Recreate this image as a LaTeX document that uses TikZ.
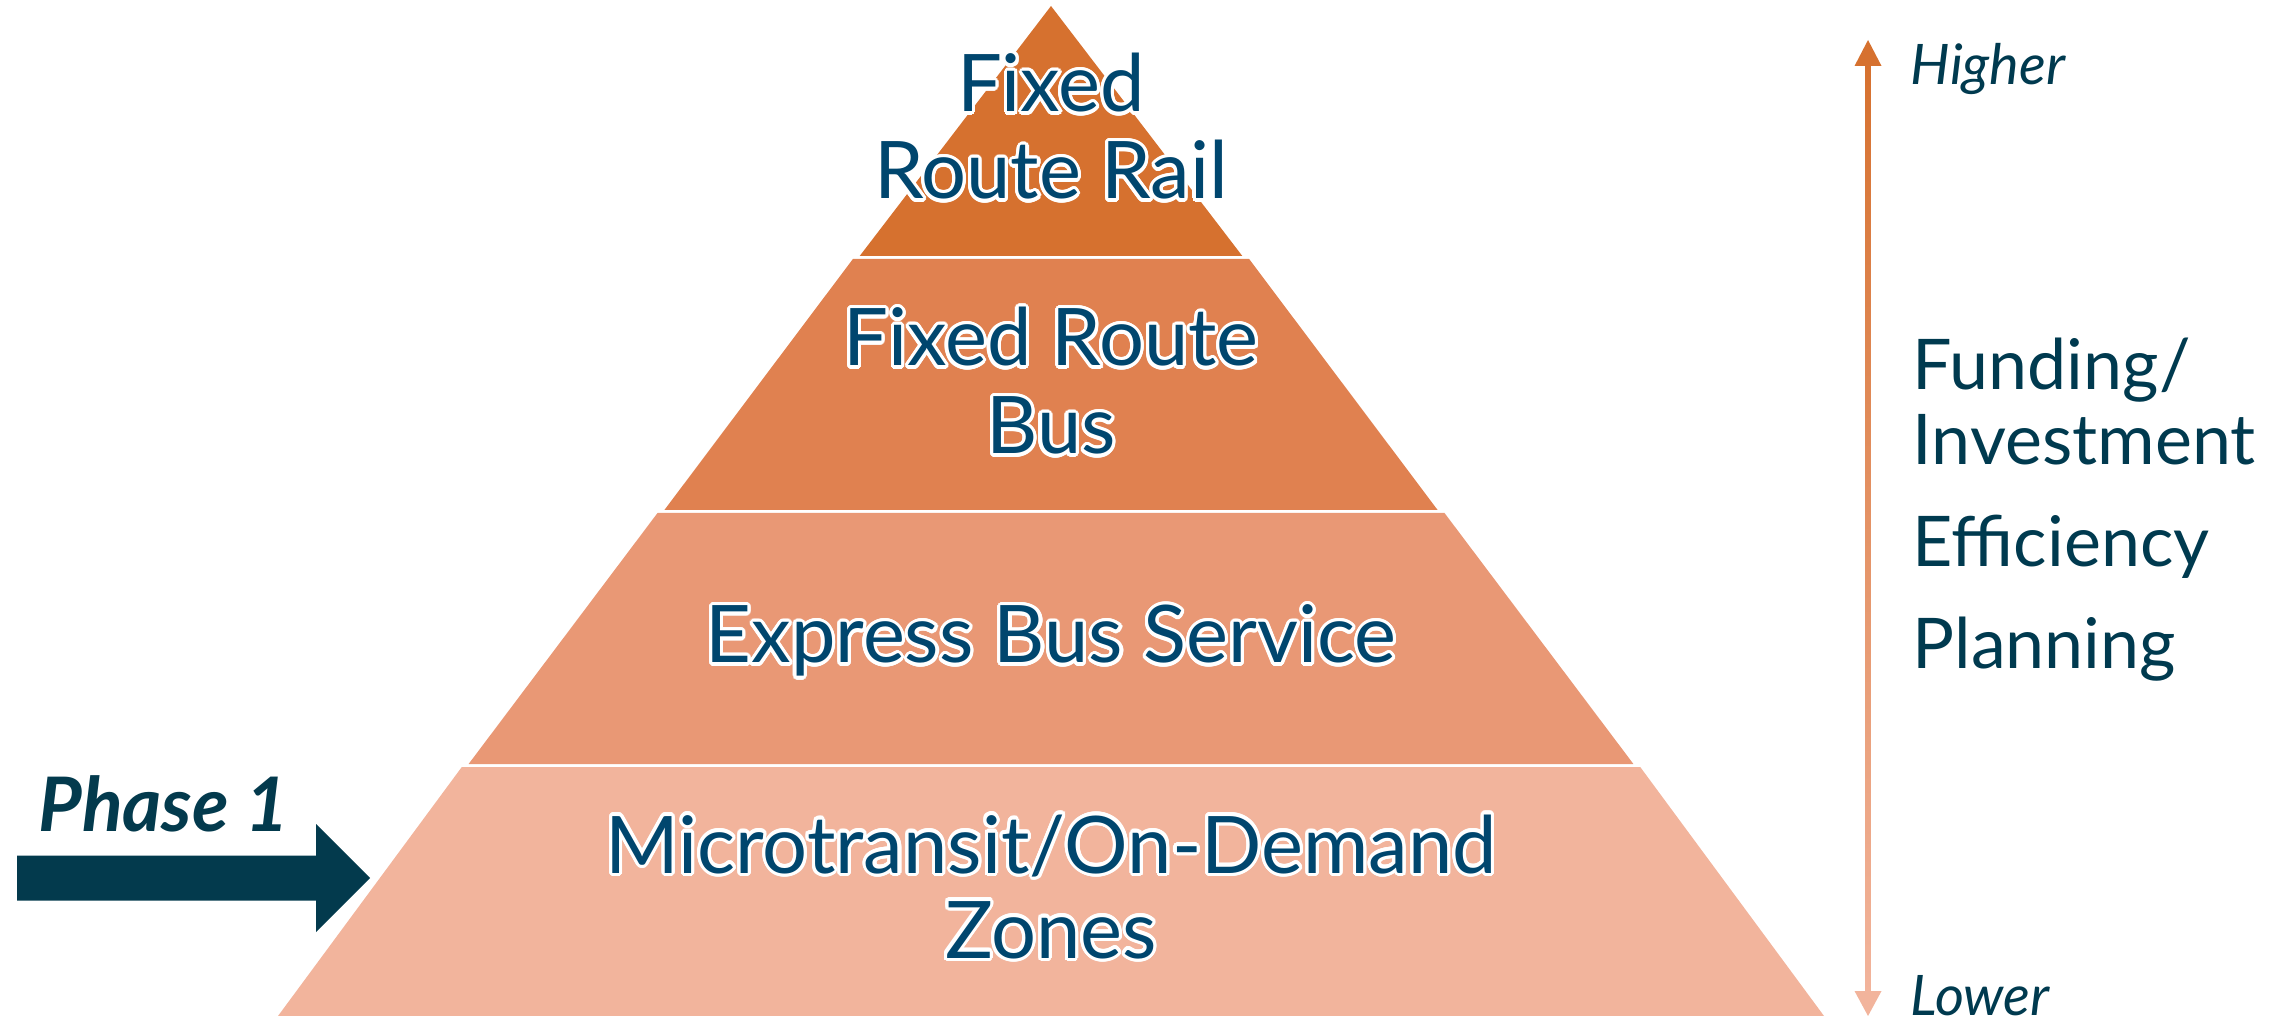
\documentclass[tikz,border=0pt]{standalone}
\usepackage{fontspec}
\setmainfont{Lato}
\usepackage{contour}
\contourlength{0.9pt}
\contournumber{24}
\definecolor{layA}{RGB}{214,113,47}
\definecolor{layB}{RGB}{224,129,80}
\definecolor{layC}{RGB}{233,152,117}
\definecolor{layD}{RGB}{242,180,156}
\definecolor{pyrtext}{RGB}{0,70,110}
\definecolor{sidetext}{RGB}{0,58,79}
\definecolor{phasecol}{RGB}{3,58,77}
\begin{document}
\begin{tikzpicture}[x=0.1mm,y=-0.1mm,
  pyr/.style={font=\fontsize{22.6}{25}\selectfont, text=pyrtext, inner sep=0pt, anchor=base},
  side/.style={font=\fontsize{19.9}{22}\selectfont, text=sidetext, inner sep=0pt, anchor=base west},
  hilo/.style={font=\fontsize{15.9}{18}\selectfont\itshape, text=sidetext, inner sep=0pt, anchor=base west}]
\useasboundingbox (0,0) rectangle (2285,1016);
% pyramid layers (half width = 0.765*(y-6) about x=1051)
\fill[layA] (1051,6) -- (1242.3,256) -- (859.7,256) -- cycle;
\fill[layB] (852.9,259) -- (1249.1,259) -- (1437.6,510) -- (664.4,510) -- cycle;
\fill[layC] (657.5,513) -- (1444.5,513) -- (1633.4,764) -- (468.6,764) -- cycle;
\fill[layD] (461.8,767) -- (1640.2,767) -- (1824,1016) -- (278,1016) -- cycle;
% pyramid labels
\node[pyr] (rail1) at (1051,112) {\contour{white}{Fixed}};
\node[pyr] (rail2) at (1051,199) {\contour{white}{Route Rail}};
\node[pyr] (bus1) at (1051,366) {\contour{white}{Fixed Route}};
\node[pyr] (bus2) at (1051,454) {\contour{white}{Bus}};
\node[pyr] (express) at (1051,663) {\contour{white}{Express Bus Service}};
\node[pyr] (micro1) at (1051,873) {\contour{white}{Microtransit/On-Demand}};
\node[pyr] (micro2) at (1051,958) {\contour{white}{Zones}};
% phase arrow
\coordinate (ptail) at (17,878);
\coordinate (ptip) at (370,878);
\fill[phasecol] (ptail) ++(0,-22.5) -- (316,855.5) -- (316,824) -- (ptip) -- (316,932) -- (316,900.5) -- (17,900.5) -- cycle;
\node[font=\fontsize{21.4}{24}\selectfont\bfseries\itshape, text=phasecol, inner sep=0pt, anchor=base west] (phase) at (38,831) {Phase 1};
% vertical scale arrow
\coordinate (hi) at (1868,40);
\coordinate (lo) at (1868,1016);
\shade[top color=layA, bottom color=layD] (1865.5,64) rectangle (1870.5,993);
\fill[layA] (hi) -- (1881.5,66) -- (1854.5,66) -- cycle;
\fill[layD] (lo) -- (1881.5,991) -- (1854.5,991) -- cycle;
\node[hilo] (higher) at (1910,85) {Higher};
\node[hilo] (lower) at (1910,1015) {Lower};
\node[side] (fund) at (1912,390) {Funding/};
\node[side] (invest) at (1912,465) {Investment};
\node[side] (eff) at (1912,567) {Efficiency};
\node[side] (plan) at (1912,668) {Planning};
\end{tikzpicture}
\end{document}
